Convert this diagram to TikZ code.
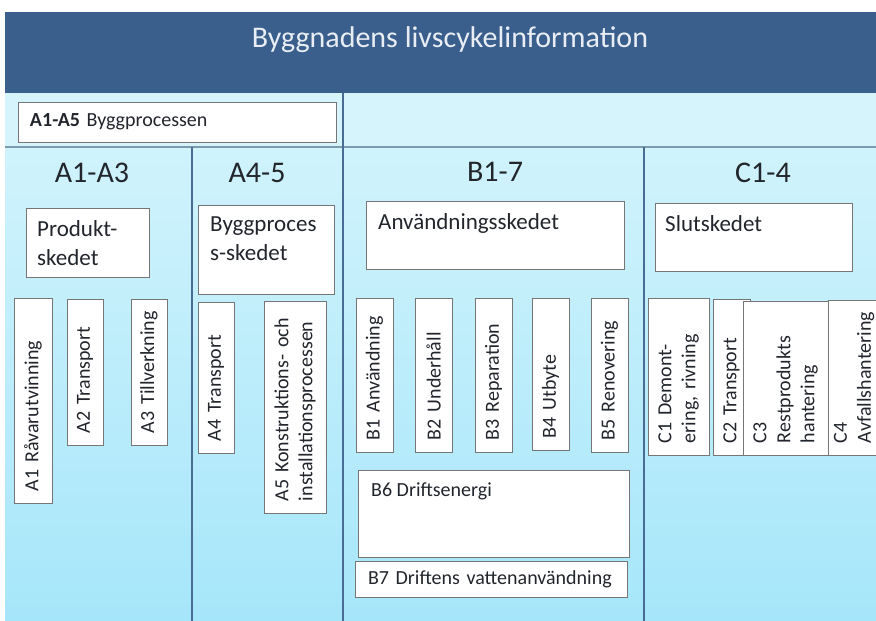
\documentclass[tikz,border=0pt]{standalone}
\usepackage{fontspec}
\setmainfont{Carlito}
\usepackage{xcolor}

\definecolor{headblue}{RGB}{58,95,140}
\definecolor{toprow}{RGB}{214,244,252}
\definecolor{bodytop}{RGB}{208,243,252}
\definecolor{bodybot}{RGB}{166,230,250}
\definecolor{gridline}{RGB}{72,108,148}
\definecolor{rowline}{RGB}{125,155,175}
\definecolor{boxline}{RGB}{118,118,118}
\definecolor{titlegrey}{RGB}{232,238,244}
\definecolor{ink}{RGB}{34,38,44}

\tikzset{
  stage/.style={draw=boxline,fill=white,line width=0.9pt,inner sep=0pt},
  stagetext/.style={anchor=north west,align=left,inner sep=0pt,text=ink,font=\fontsize{23}{29}\selectfont},
  part/.style={stage,rotate=90,align=left,inner xsep=12pt,text=ink,font=\fontsize{20}{24}\selectfont},
  colhead/.style={text=ink,font=\fontsize{30}{36}\selectfont}
}

\begin{document}
\begin{tikzpicture}[x=1pt,y=-1pt]
  \useasboundingbox (0,0) rectangle (876,621);
  \clip (0,0) rectangle (876,621);

  % background and grid
  \fill[toprow] (5,93) rectangle (876,147);
  \shade[top color=bodytop,bottom color=bodybot] (5,147) rectangle (876,621);
  \fill[headblue] (5,12) rectangle (876,93);
  \draw[rowline,line width=1.2pt] (5,147) -- (876,147);
  \draw[gridline,line width=2pt] (343,93) -- (343,621);
  \draw[gridline,line width=2pt] (192,147) -- (192,621);
  \draw[gridline,line width=2pt] (644,147) -- (644,621);

  \node[text=titlegrey,font=\fontsize{30}{36}\selectfont] (title) at (450,40) {Byggnadens livscykelinformation};

  \node[stage,minimum width=318,minimum height=40,align=left,text width=294,inner xsep=12pt,text=ink,font=\fontsize{20}{24}\selectfont] (bygg) at (177,122) {\textbf{A1-A5} Byggprocessen};

  % column heads
  \node[colhead] (ha) at (92,173) {A1-A3};
  \node[colhead] (hb) at (257,173) {A4-5};
  \node[colhead] (hc) at (495,172) {B1-7};
  \node[colhead] (hd) at (763,173) {C1-4};

  % stage boxes
  \node[stage,anchor=north west,minimum width=123,minimum height=69] (prod) at (26,208) {};
  \node[stagetext] (prodt) at ([shift={(11,12)}]prod.north west) {Produkt-\\skedet};
  \node[stage,anchor=north west,minimum width=136,minimum height=89] (proc) at (198,205) {};
  \node[stagetext] (proct) at ([shift={(12,12)}]proc.north west) {Byggproces\\s-skedet};
  \node[stage,anchor=north west,minimum width=258,minimum height=68] (anv) at (366,201) {};
  \node[stagetext] (anvt) at ([shift={(12,12)}]anv.north west) {Användningsskedet};
  \node[stage,anchor=north west,minimum width=197,minimum height=68] (slut) at (655,203) {};
  \node[stagetext] (slutt) at ([shift={(10,12)}]slut.north west) {Slutskedet};

  % A parts
  \node[part,minimum height=38,text width=181] (a1) at (33,400.5) {A1 Råvarutvinning};
  \node[part,minimum height=36,text width=122] (a2) at (85,372) {A2 Transport};
  \node[part,minimum height=36,text width=122] (a3) at (149,372) {A3 Tillverkning};
  \node[part,minimum height=36,text width=127] (a4) at (216,377.5) {A4 Transport};
  \node[part,minimum height=62,text width=188] (a5) at (295,407) {A5 Konstruktions- och\\installationsprocessen};

  % B parts
  \node[part,minimum height=37,text width=130] (b1) at (374.5,375) {B1 Användning};
  \node[part,minimum height=37,text width=130] (b2) at (433.5,375) {B2 Underhåll};
  \node[part,minimum height=37,text width=130] (b3) at (493.5,375) {B3 Reparation};
  \node[part,minimum height=37,text width=128] (b4) at (550.5,374) {B4 Utbyte};
  \node[part,minimum height=37,text width=130] (b5) at (609.5,375) {B5 Renovering};
  \node[stage,anchor=north west,minimum width=271,minimum height=87] (b6) at (358,470) {};
  \node[stagetext,font=\fontsize{20}{24}\selectfont] (b6t) at ([shift={(13,13)}]b6.north west) {B6 Driftsenergi};
  \node[stage,minimum width=272,minimum height=36,align=left,text width=246,inner xsep=13pt,text=ink,font=\fontsize{20}{24}\selectfont] (b7) at (491,579) {B7 Driftens vattenanvändning};

  % C parts
  \node[part,minimum height=61,text width=133] (c1) at (678.5,376.5) {C1 Demont-\\ering, rivning};
  \node[part,minimum height=37,text width=132] (c2) at (731.5,377) {C2 Transport};
  \node[part,minimum height=85,text width=130] (c3) at (785.5,378) {C3\\Restprodukts\\hantering};
  \node[part,minimum height=52,text width=131] (c4) at (854,377.5) {C4\\Avfallshantering};
\end{tikzpicture}
\end{document}
